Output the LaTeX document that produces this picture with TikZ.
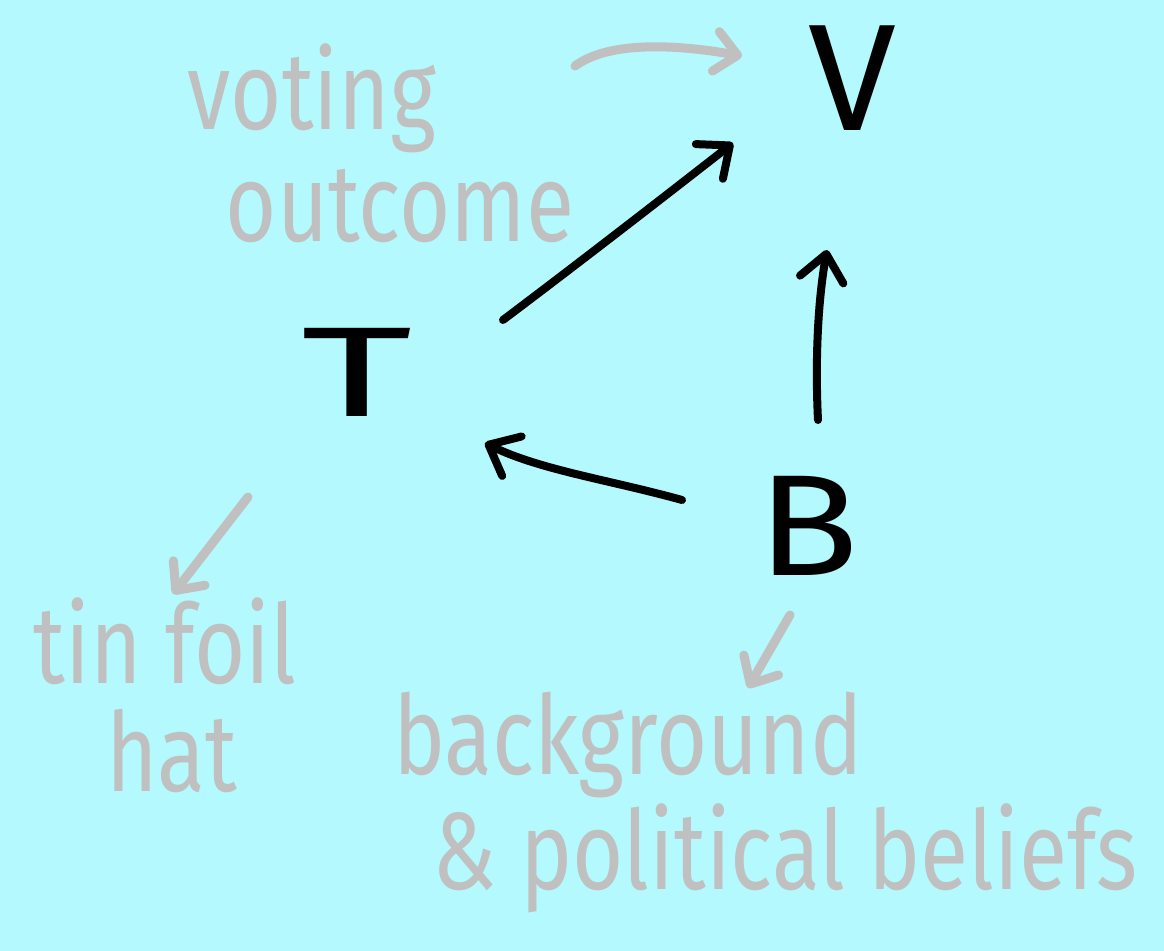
\documentclass[tikz,border=0pt]{standalone}
\usepackage{fontspec}
\usetikzlibrary{arrows.meta}
\newfontfamily\handfont[FakeStretch=0.8]{Fira Sans}
\definecolor{bgcyan}{RGB}{179,249,253}
\definecolor{labgray}{RGB}{192,192,192}
\tikzset{
  biglet/.style={inner sep=0pt, text=black, font=\handfont\fontsize{76}{80}\selectfont},
  graylab/.style={inner sep=0pt, text=labgray, font=\handfont\fontsize{55}{60}\selectfont, anchor=base},
  blackarrow/.style={draw=black, line width=4pt, line cap=round, line join=round,
     -{Straight Barb[length=13pt,width=22pt,line width=4pt,round]}},
  grayarrow/.style={draw=labgray, line width=4.5pt, line cap=round, line join=round,
     -{Straight Barb[length=11pt,width=20pt,line width=4.5pt,round]}}
}
\begin{document}
\begin{tikzpicture}[x=0.5pt,y=-0.5pt]
\useasboundingbox (0,0) rectangle (1164,951);
\fill[bgcyan] (0,0) rectangle (1164,951);

% main letters
\node[biglet] (V) at (852,78) {\scalebox{1.3}[1]{V}};
\node[biglet, font=\handfont\fontsize{64}{70}\selectfont] (T) at (357,372) {\scalebox{2.1}[1]{T}};
\node[biglet, font=\handfont\fontsize{72}{76}\selectfont] (B) at (808,526) {\scalebox{1.45}[1]{B}};

% gray labels
\node[graylab] (vot) at (312,130) {voting};
\node[graylab] (out) at (400,242) {outcome};
\node[graylab] (tin) at (165,684) {tin foil};
\node[graylab] (hat) at (172,792) {hat};
\node[graylab] (bg) at (628,775) {background};
\node[graylab] (pol) at (785,890) {\& political beliefs};

% named free ends
\coordinate (tv1) at (503,320);
\coordinate (tv2) at (733,143);
\coordinate (bv1) at (818,420);
\coordinate (bv2) at (827,250);
\coordinate (bt1) at (682,500);
\coordinate (bt2) at (485,443);
\coordinate (go1) at (575,66);
\coordinate (go2) at (742,56);
\coordinate (gt1) at (248,497);
\coordinate (gt2) at (173,594);
\coordinate (gb1) at (790,615);
\coordinate (gb2) at (748,688);

% black arrows
\draw[blackarrow] (tv1) .. controls (580,262) and (660,200) .. (tv2);
\draw[blackarrow] (bv1) .. controls (815,360) and (818,300) .. (bv2);
\draw[blackarrow] (bt1) .. controls (610,480) and (540,470) .. (bt2);

% gray arrows
\draw[grayarrow] (go1) .. controls (610,40) and (680,45) .. (go2);
\draw[grayarrow] (gt1) -- (gt2);
\draw[grayarrow] (gb1) -- (gb2);
\end{tikzpicture}
\end{document}
